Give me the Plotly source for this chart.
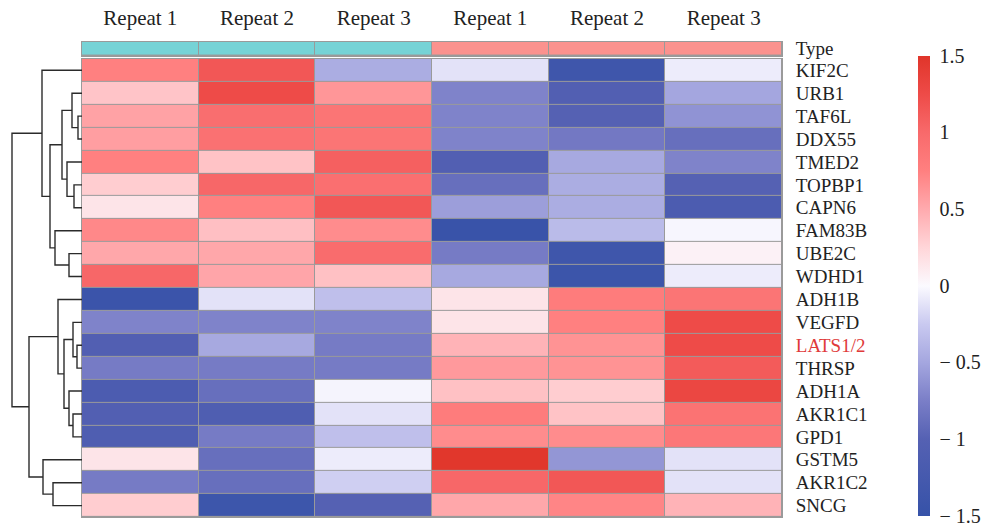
import plotly.graph_objects as go

# ---- data -------------------------------------------------------------
genes = ["KIF2C", "URB1", "TAF6L", "DDX55", "TMED2", "TOPBP1", "CAPN6",
         "FAM83B", "UBE2C", "WDHD1", "ADH1B", "VEGFD", "LATS1/2", "THRSP",
         "ADH1A", "AKR1C1", "GPD1", "GSTM5", "AKR1C2", "SNCG"]
samples = ["Repeat 1", "Repeat 2", "Repeat 3", "Repeat 1", "Repeat 2", "Repeat 3"]
sample_type = [0, 0, 0, 1, 1, 1]

# row-scaled expression (z-scores), rows in the order of the gene list
zscores = [
    [0.75, 1.15, -0.45, -0.12, -1.35, -0.07],
    [0.35, 1.25, 0.62, -0.72, -1.05, -0.50],
    [0.55, 0.95, 0.88, -0.72, -1.00, -0.62],
    [0.57, 0.92, 0.88, -0.72, -0.80, -0.88],
    [0.75, 0.36, 1.08, -1.05, -0.48, -0.72],
    [0.30, 1.02, 0.94, -0.88, -0.45, -1.00],
    [0.15, 0.75, 1.15, -0.55, -0.45, -1.15],
    [0.70, 0.38, 0.68, -1.45, -0.35, -0.02],
    [0.52, 0.52, 0.98, -0.78, -1.35, 0.06],
    [1.02, 0.53, 0.37, -0.48, -1.40, -0.07],
    [-1.42, -0.12, -0.32, 0.15, 0.80, 0.88],
    [-0.72, -0.72, -0.72, 0.15, 0.75, 1.25],
    [-1.05, -0.48, -0.78, 0.45, 0.64, 1.25],
    [-0.78, -0.78, -0.78, 0.60, 0.64, 1.12],
    [-1.15, -0.88, -0.03, 0.37, 0.30, 1.30],
    [-1.05, -1.10, -0.12, 0.80, 0.36, 0.90],
    [-1.10, -0.78, -0.32, 0.68, 0.68, 0.85],
    [0.15, -0.88, -0.07, 1.48, -0.60, -0.12],
    [-0.78, -0.88, -0.22, 1.02, 1.15, -0.12],
    [0.30, -1.38, -1.00, 0.52, 0.72, 0.45],
]

# hierarchical clustering of the rows: (left, right, height);
# a string is a gene, an int refers to an earlier merge
merges = [
    ("TAF6L", "DDX55", 0.4),
    ("TOPBP1", "CAPN6", 0.8),
    ("URB1", 0, 1.0),
    ("TMED2", 1, 1.5),
    (2, 3, 2.0),
    ("UBE2C", "WDHD1", 1.3),
    ("FAM83B", 5, 2.7),
    (4, 6, 3.2),
    ("KIF2C", 7, 4.0),
    ("LATS1/2", "THRSP", 0.5),
    ("VEGFD", 9, 0.9),
    ("AKR1C1", "GPD1", 0.9),
    ("ADH1A", 11, 1.3),
    (10, 12, 1.8),
    ("ADH1B", 13, 2.4),
    ("AKR1C2", "SNCG", 2.9),
    ("GSTM5", 15, 3.9),
    (14, 16, 5.3),
    (8, 17, 7.0),
]

colorbar_ticks = [1.5, 1, 0.5, 0, -0.5, -1, -1.5]
highlight_gene = "LATS1/2"

# ---- style ------------------------------------------------------------
W, H = 987, 527
FONT = "Liberation Serif"
GRID = "#9a9a9a"
heat_scale = [
    [0.000, "#3652A8"],
    [0.167, "#5561B3"],
    [0.250, "#7A7EC7"],
    [0.333, "#A4A6DF"],
    [0.417, "#C9C9F0"],
    [0.500, "#FBFAFF"],
    [0.583, "#FFD6D9"],
    [0.667, "#FFAAAE"],
    [0.750, "#FF8080"],
    [0.833, "#F86A6B"],
    [0.917, "#EE4B48"],
    [1.000, "#E0352A"],
]
type_colors = ["#76D3D6", "#FB928E"]


def px_x(p):
    return p / W


def px_y(p):
    return 1 - p / H


heat_x = [px_x(82), px_x(782)]
heat_y = [px_y(520), px_y(56.5)]
type_y = [px_y(53.5), px_y(39)]
dendro_x = [0, px_x(82)]

fig = go.Figure()

# main heatmap
fig.add_trace(go.Heatmap(
    z=zscores, x=list(range(len(samples))), y=list(range(len(genes))),
    colorscale=heat_scale, zmin=-1.5, zmax=1.5, xgap=1, ygap=1,
    xaxis="x", yaxis="y",
    colorbar=dict(
        x=px_x(918), xanchor="left", xpad=0, ypad=0, thickness=12,
        lenmode="pixels", len=460, y=px_y(286), yanchor="middle",
        outlinewidth=0, ticks="outside", ticklen=6, tickcolor="rgba(0,0,0,0)",
        tickvals=colorbar_ticks,
        ticktext=[("− " + str(abs(v))) if v < 0 else str(v) for v in colorbar_ticks],
        tickfont=dict(family=FONT, size=20, color="#222"),
    ),
))

# sample type annotation bar
fig.add_trace(go.Heatmap(
    z=[sample_type], x=list(range(len(samples))), y=[0],
    colorscale=[[0, type_colors[0]], [0.5, type_colors[0]],
                [0.5, type_colors[1]], [1, type_colors[1]]],
    zmin=0, zmax=1, xgap=1, ygap=1, showscale=False,
    xaxis="x2", yaxis="y2", hoverinfo="skip",
))

# row dendrogram
pos = {}
seg_x, seg_y = [], []


def node_pos(ref):
    if isinstance(ref, str):
        return genes.index(ref), 0.0
    return pos[ref]


for k, (a, b, h) in enumerate(merges):
    ya, ha = node_pos(a)
    yb, hb = node_pos(b)
    seg_x += [ha, h, h, hb, None]
    seg_y += [ya, ya, yb, yb, None]
    pos[k] = ((ya + yb) / 2, h)

fig.add_trace(go.Scatter(
    x=seg_x, y=seg_y, mode="lines", xaxis="x3", yaxis="y3",
    line=dict(color="#2b2b2b", width=1.4), hoverinfo="skip", showlegend=False,
))

gene_text = [f"<span style='color:#E03A3A'>{g}</span>" if g == highlight_gene else g
             for g in genes]
n = len(genes)

# grey cell borders: a grey panel behind each grid shows through the gaps
for ydom in (heat_y, type_y):
    fig.add_shape(type="rect", xref="paper", yref="paper", layer="below",
                  x0=heat_x[0], x1=heat_x[1], y0=ydom[0], y1=ydom[1],
                  fillcolor=GRID, line=dict(width=0))

axis_line = dict(showline=True, mirror=True, linecolor=GRID, linewidth=1,
                 showgrid=False, zeroline=False)

fig.update_layout(
    width=W, height=H,
    margin=dict(l=0, r=0, t=0, b=0),
    paper_bgcolor="white", plot_bgcolor="rgba(0,0,0,0)",
    font=dict(family=FONT, size=19, color="#222"),
    showlegend=False,
    xaxis=dict(domain=heat_x, range=[-0.5, len(samples) - 0.5],
               showticklabels=False, ticks="", **axis_line),
    yaxis=dict(domain=heat_y, range=[n - 0.5, -0.5], side="right",
               tickvals=list(range(n)), ticktext=gene_text,
               ticks="outside", ticklen=9, tickcolor="rgba(0,0,0,0)",
               **axis_line),
    xaxis2=dict(domain=heat_x, range=[-0.5, len(samples) - 0.5], side="top",
                anchor="y2", tickvals=list(range(len(samples))), ticktext=samples,
                tickfont=dict(size=21),
                ticks="outside", ticklen=7, tickcolor="rgba(0,0,0,0)",
                **axis_line),
    yaxis2=dict(domain=type_y, range=[-0.5, 0.5], side="right", anchor="x2",
                tickvals=[0], ticktext=["Type"],
                ticks="outside", ticklen=9, tickcolor="rgba(0,0,0,0)",
                **axis_line),
    xaxis3=dict(domain=dendro_x, range=[8.2, 0], anchor="y3", visible=False),
    yaxis3=dict(domain=heat_y, range=[n - 0.5, -0.5], anchor="x3", visible=False),
)

fig.write_html("out.html")
